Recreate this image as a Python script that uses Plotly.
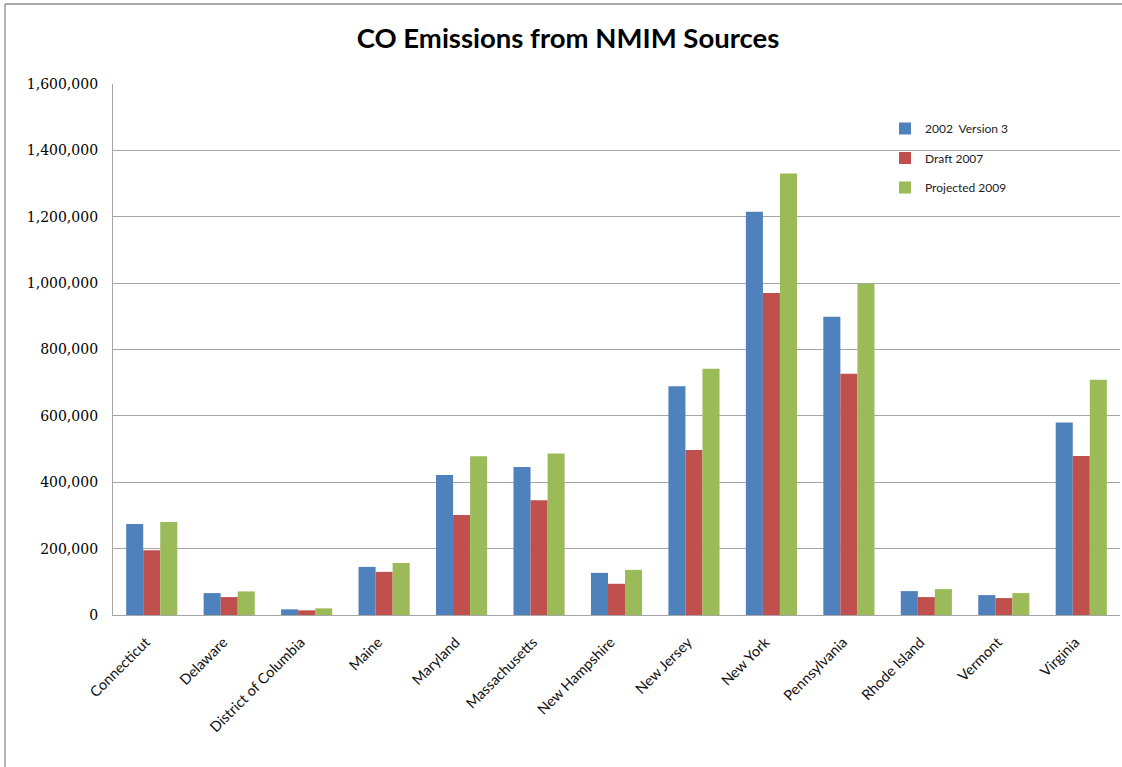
import plotly.graph_objects as go

states = ["Connecticut", "Delaware", "District of Columbia", "Maine", "Maryland",
          "Massachusetts", "New Hampshire", "New Jersey", "New York", "Pennsylvania",
          "Rhode Island", "Vermont", "Virginia"]
v2002 = [274000, 66000, 17000, 145000, 422000, 446000, 127000, 689000, 1215000, 899000, 72000, 60000, 580000]
d2007 = [195000, 54000, 14000, 130000, 301000, 346000, 94000, 497000, 970000, 727000, 54000, 51000, 479000]
p2009 = [280000, 71000, 20000, 157000, 478000, 487000, 136000, 742000, 1330000, 998000, 78000, 66000, 709000]

series_names = ["2002  Version 3", "Draft 2007", "Projected 2009"]
colors = ["#4F81BD", "#C0504D", "#9BBB59"]

fig = go.Figure()
for name, vals, c in zip(series_names, [v2002, d2007, p2009], colors):
    fig.add_trace(go.Bar(x=states, y=vals, name=name, marker=dict(color=c, line=dict(width=0)),
                         legendgroup=name))

L, R, T, B = 113, 2, 84, 152
W, H = 1122, 767
pw = W - L - R
ph = H - T - B

fig.update_layout(
    width=W, height=H,
    margin=dict(l=L, r=R, t=T, b=B),
    paper_bgcolor="white", plot_bgcolor="white",
    barmode="group", bargap=0.34, bargroupgap=0,
    title=dict(text="<b>CO Emissions from NMIM Sources</b>", x=568 / W, xanchor="center",
               y=1 - 38 / H, yanchor="middle",
               font=dict(family="Lato, Open Sans, sans-serif", size=27.5, color="#000000")),
    legend=dict(x=(885 - L) / pw, y=(615 - 114) / ph, xanchor="left", yanchor="top",
                bgcolor="rgba(0,0,0,0)", traceorder="grouped", tracegroupgap=10.5,
                font=dict(family="Lato, Open Sans, sans-serif", size=12, color="#222222"),
                itemwidth=30),
    showlegend=True,
    font=dict(family="Lato, Open Sans, sans-serif"),
)

fig.update_yaxes(range=[0, 1600000], dtick=200000, tickformat=",",
                 showgrid=True, gridcolor="#A6A6A6", gridwidth=1.3,
                 showline=True, linecolor="#A6A6A6", linewidth=1.3,
                 zeroline=False, ticks="", ticklabelstandoff=11,
                 tickfont=dict(family="DejaVu Serif, Liberation Serif, serif", size=14, color="#000000"))
fig.update_xaxes(showline=True, linecolor="#A6A6A6", linewidth=1.3, tickangle=-45,
                 ticks="", ticklabelstandoff=12, ticklabelshift=-6,
                 tickfont=dict(family="Lato, Open Sans, sans-serif", size=14.5, color="#111111"))

# outer chart border (left and top)
fig.add_shape(type="line", xref="paper", yref="paper",
              x0=(5 - L) / pw, x1=(5 - L) / pw, y0=(615 - 4) / ph, y1=(615 - 767) / ph,
              line=dict(color="#8C8C8C", width=1.3))
fig.add_shape(type="line", xref="paper", yref="paper",
              x0=(5 - L) / pw, x1=(1122 - L) / pw, y0=(615 - 4) / ph, y1=(615 - 4) / ph,
              line=dict(color="#8C8C8C", width=1.3))

fig.write_html("out.html", config={"displayModeBar": False},
               post_script="document.body.style.margin='0';")
